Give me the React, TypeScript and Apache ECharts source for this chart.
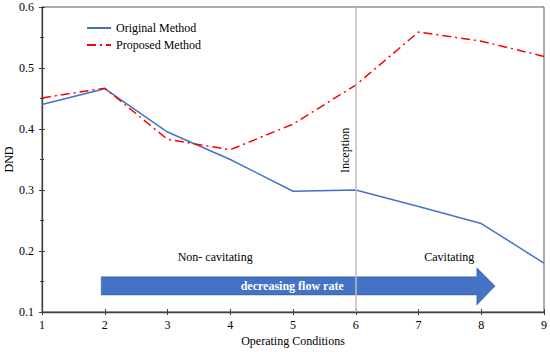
import React, { useEffect, useRef } from "react";
import * as echarts from "echarts";

const conditions = [1, 2, 3, 4, 5, 6, 7, 8, 9];
const originalMethod = [0.44, 0.466, 0.395, 0.35, 0.298, 0.3, 0.273, 0.245, 0.18];
const proposedMethod = [0.451, 0.467, 0.383, 0.366, 0.408, 0.472, 0.559, 0.544, 0.519];
const inceptionAt = 6;
// arrow: [xStart, xBodyEnd, xTip], [yBodyBottom, yBodyTop, yHeadBottom, yHeadTop]
const arrowX = [1.944, 7.93, 8.22];
const arrowY = [0.128, 0.1576, 0.1114, 0.1725];
const annotations = [
  { text: "Non- cavitating", x: 3.76, y: 0.19, rotate: 0 },
  { text: "Cavitating", x: 7.49, y: 0.19, rotate: 0 },
  { text: "Inception", x: 5.83, y: 0.365, rotate: 90 },
];

const FONT = "Liberation Serif";

export default function App() {
  const ref = useRef<HTMLDivElement>(null);
  useEffect(() => {
    if (!ref.current) return;
    const chart = echarts.init(ref.current, null, { renderer: "svg" });
    const axisCommonX = { type: "value", min: 1, max: 9, interval: 1 };
    const axisCommonY = { type: "value", min: 0.1, max: 0.6, interval: 0.1 };
    const txt = { fontFamily: FONT, fontSize: 12, color: "#000" };
    chart.setOption({
      animation: false,
      textStyle: { fontFamily: FONT },
      grid: {
        left: 42,
        right: 6,
        top: 7,
        bottom: 40,
        outerBoundsMode: "none",
        containLabel: false,
        show: true,
        borderColor: "#595959",
        borderWidth: 1,
      },
      legend: {
        left: 81,
        top: 17,
        orient: "vertical",
        itemWidth: 24,
        itemHeight: 10,
        itemGap: 5,
        itemStyle: { opacity: 0 },
        textStyle: txt,
        data: ["Original Method", "Proposed Method"],
      },
      xAxis: [
        {
          ...axisCommonX,
          name: "Operating Conditions",
          nameLocation: "middle",
          nameGap: 23,
          nameMoveOverlap: false,
          nameTextStyle: txt,
          axisLine: { show: true, lineStyle: { color: "#404040", width: 1.3 } },
          axisTick: { show: true, length: 3, lineStyle: { color: "#404040" } },
          axisLabel: { ...txt, margin: 7 },
          splitLine: { show: false },
        },
        {
          ...axisCommonX,
          position: "bottom",
          axisLine: { show: false },
          axisTick: { show: true, inside: true, length: 3, lineStyle: { color: "#404040" } },
          axisLabel: { show: false },
          splitLine: { show: false },
        },
      ],
      yAxis: [
        {
          ...axisCommonY,
          name: "DND",
          nameLocation: "middle",
          nameGap: 27,
          nameMoveOverlap: false,
          nameTextStyle: txt,
          axisLine: { show: true, lineStyle: { color: "#404040", width: 1.3 } },
          axisTick: { show: true, length: 3, lineStyle: { color: "#404040" } },
          minorTick: { show: true, splitNumber: 2, length: 2, lineStyle: { color: "#404040" } },
          axisLabel: { ...txt, margin: 8, formatter: (v: number) => v.toFixed(1) },
          splitLine: { show: false },
        },
        {
          ...axisCommonY,
          position: "left",
          axisLine: { show: false },
          axisTick: { show: true, inside: true, length: 3, lineStyle: { color: "#404040" } },
          minorTick: { show: true, splitNumber: 2, length: 2, lineStyle: { color: "#404040" } },
          axisLabel: { show: false },
          splitLine: { show: false },
        },
      ],
      series: [
        {
          name: "Arrow",
          type: "custom",
          silent: true,
          z: 1,
          data: [[arrowX[0], arrowY[0]]],
          renderItem: (params: any, api: any) => {
            const p = (x: number, y: number) => api.coord([x, y]);
            const pts = [
              p(arrowX[0], arrowY[0]),
              p(arrowX[0], arrowY[1]),
              p(arrowX[1], arrowY[1]),
              p(arrowX[1], arrowY[3]),
              p(arrowX[2], (arrowY[0] + arrowY[1]) / 2),
              p(arrowX[1], arrowY[2]),
              p(arrowX[1], arrowY[0]),
            ];
            const c = p((arrowX[0] + arrowX[1]) / 2 + 0.05, (arrowY[0] + arrowY[1]) / 2);
            return {
              type: "group",
              children: [
                {
                  type: "polygon",
                  shape: { points: pts },
                  style: { fill: "#4472C4", stroke: "#2F528F", lineWidth: 0.5 },
                },
                {
                  type: "text",
                  x: c[0],
                  y: c[1],
                  style: {
                    text: "decreasing flow rate",
                    fill: "#fff",
                    fontFamily: FONT,
                    fontSize: 12,
                    fontWeight: "bold",
                    align: "center",
                    verticalAlign: "middle",
                  },
                },
              ],
            };
          },
        },
        {
          name: "Original Method",
          type: "line",
          data: conditions.map((c, i) => [c, originalMethod[i]]),
          symbol: "none",
          z: 3,
          lineStyle: { color: "#4472C4", width: 1.5 },
          itemStyle: { color: "#4472C4" },
          markLine: {
            silent: true,
            symbol: "none",
            label: { show: false },
            lineStyle: { color: "#bfbfbf", width: 1.5, type: "solid" },
            data: [{ xAxis: inceptionAt }],
          },
        },
        {
          name: "Proposed Method",
          type: "line",
          data: conditions.map((c, i) => [c, proposedMethod[i]]),
          symbol: "none",
          z: 4,
          lineStyle: { color: "#FF0000", width: 1.5, type: [9, 4, 2, 4] },
          itemStyle: { color: "#FF0000" },
        },
      ],
    });
    const graphics = annotations.map((a) => {
      const pt = chart.convertToPixel({ gridIndex: 0 }, [a.x, a.y]) as number[];
      return {
        type: "text",
        x: pt[0],
        y: pt[1],
        rotation: (a.rotate * Math.PI) / 180,
        style: {
          text: a.text,
          fill: "#000",
          fontFamily: FONT,
          fontSize: 12,
          align: "center",
          verticalAlign: "middle",
        },
        z: 10,
      };
    });
    chart.setOption({ graphic: graphics });
    return () => chart.dispose();
  }, []);
  return <div ref={ref} style={{ width: 550, height: 352, position: "absolute", left: 0, top: 0 }} />;
}
